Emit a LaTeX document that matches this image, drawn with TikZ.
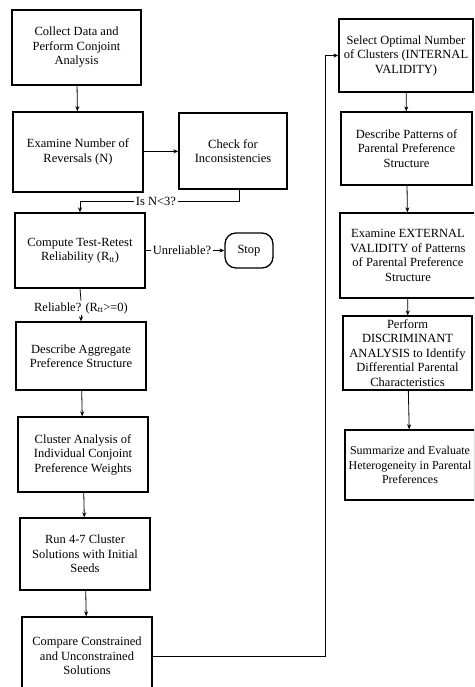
\documentclass[tikz,border=0pt]{standalone}
\usepackage{fontspec}
\setmainfont{Liberation Serif}
\usetikzlibrary{arrows.meta,calc}
\begin{document}
\begin{tikzpicture}[x=1pt,y=-1pt,
  box/.style={draw, line width=1.3pt, align=center, font=\fontsize{12.5}{14.5}\selectfont, inner sep=0pt},
  conn/.style={line width=0.8pt},
  arr/.style={conn, -{Stealth[length=5pt,width=4pt]}},
  lbl/.style={font=\fontsize{12.5}{14.5}\selectfont, inner sep=1.5pt}]
\useasboundingbox (0,0) rectangle (474,687);
\clip (0,0) rectangle (474,687);
% left column
\node[box, minimum width=129pt, minimum height=75pt] (collect) at (76.5,47.5) {Collect Data and\\Perform Conjoint\\Analysis};
\node[box, minimum width=130pt, minimum height=80pt] (examine) at (78,152) {Examine Number of\\Reversals (N)};
\node[box, minimum width=108pt, minimum height=76pt] (check) at (233,151) {Check for\\Inconsistencies};
\node[box, minimum width=130pt, minimum height=75pt] (compute) at (80,250.5) {Compute Test-Retest\\Reliability (R$_{\mathrm{tt}}$)};
\node[box, rounded corners=11pt, minimum width=48pt, minimum height=35pt] (stop) at (249,250.5) {Stop};
\node[box, minimum width=130pt, minimum height=68pt] (descagg) at (81,356) {Describe Aggregate\\Preference Structure};
\node[box, minimum width=130pt, minimum height=75pt] (cluster) at (83,454.5) {Cluster Analysis of\\Individual Conjoint\\Preference Weights};
\node[box, minimum width=130pt, minimum height=72pt] (run) at (85,554) {Run 4-7 Cluster\\Solutions with Initial\\Seeds};
\node[box, minimum width=130pt, minimum height=78pt] (compare) at (87,656) {Compare Constrained\\and Unconstrained\\Solutions};
% right column
\node[box, minimum width=134pt, minimum height=73pt] (select) at (406,55.5) {Select Optimal Number\\of Clusters (INTERNAL\\VALIDITY)};
\node[box, minimum width=131pt, minimum height=73pt] (patterns) at (406.5,148.5) {Describe Patterns of\\Parental Preference\\Structure};
\node[box, minimum width=136pt, minimum height=85pt] (external) at (408,255.5) {Examine EXTERNAL\\VALIDITY of Patterns\\of Parental Preference\\Structure};
\node[box, minimum width=129pt, minimum height=74pt] (perform) at (407.5,353) {Perform\\DISCRIMINANT\\ANALYSIS to Identify\\Differential Parental\\Characteristics};
\node[box, font=\fontsize{12}{14.5}\selectfont, minimum width=130pt, minimum height=70pt] (summ) at (410,465) {Summarize and Evaluate\\Heterogeneity in Parental\\Preferences};
% labels
\node[lbl] (isn) at (156,201) {Is N<3?};
\node[lbl] (unrel) at (182,250.5) {Unreliable?};
\node[lbl] (rel) at (81,308) {Reliable? (R$_{\mathrm{tt}}$>=0)};
% connectors
\draw[arr] (collect) -- (examine);
\draw[arr] (examine) -- (check);
\draw[conn] ([xshift=6pt]check.south) |- (isn.east);
\draw[arr] (isn.west) -| (compute.north);
\draw[conn] (compute.east) -- (unrel.west);
\draw[arr] (unrel.east) -- (stop.west);
\draw[conn] (compute.south) -- (rel.north);
\draw[arr] (rel.south) -- (descagg.north);
\draw[arr] (descagg) -- (cluster);
\draw[arr] (cluster) -- (run);
\draw[arr] (run) -- (compare);
\draw[arr] (compare.east) -- ++(173,0) |- (select.west);
\draw[arr] (select) -- (patterns);
\draw[arr] (patterns) -- (external);
\draw[arr] (external) -- (perform);
\draw[arr] (perform) -- (summ);
\end{tikzpicture}
\end{document}
